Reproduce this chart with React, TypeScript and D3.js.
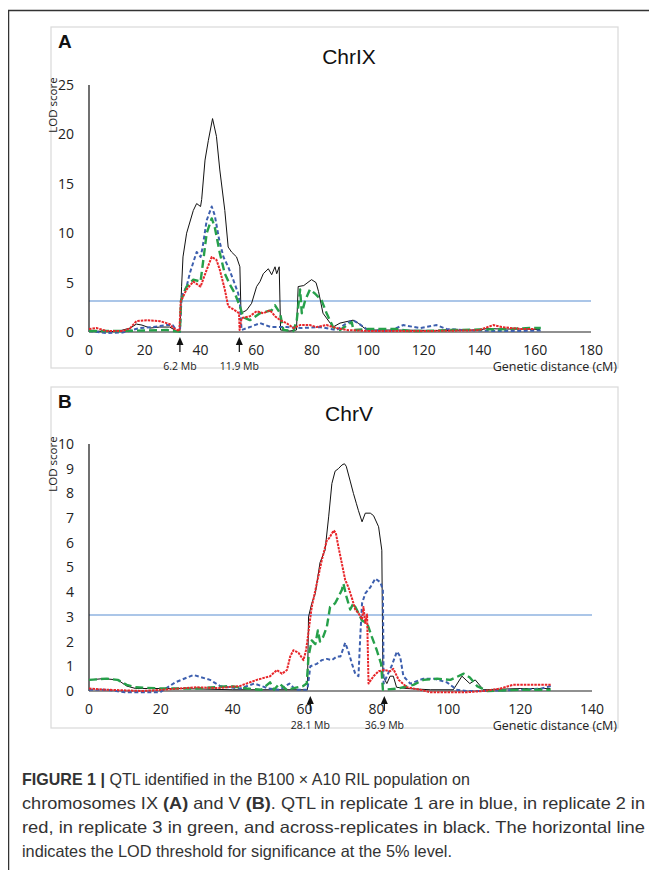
import React from "react";
import * as d3 from "d3";

type Pt = [number, number];

// ---- Chr IX (panel A) : [cM, LOD]
const ixBlack: Pt[] = [
  [0, 0.1], [10, 0.05], [14.8, 0.4], [17, 0.8], [19, 0.7], [21.9, 0.4], [25.4, 0.5], [28.9, 0.5], [31.4, 0.1], [32.6, 0.2],
  [33.2, 4.6], [33.7, 7.6], [35, 10], [37.4, 12.3], [38.6, 13], [40, 12.7], [40.4, 13.4], [41.6, 17.4], [42.8, 19.4],
  [44.3, 21.6], [45.7, 19.8], [46.9, 16.4], [48.7, 12.3], [49.9, 8.6], [51.1, 8.1], [52.9, 7.6], [54.1, 6.6],
  [54.5, 1.9], [56.5, 2.2], [58.3, 2.9], [60.1, 4.6], [61.3, 5.1], [62.5, 5.9], [64.3, 6.4], [65.5, 5.8], [66.7, 6.6],
  [67.3, 5.9], [68.2, 6.6], [68.7, 0.2], [72, 0.1], [74.4, 0.2], [75, 4.6], [77, 4.7], [79.8, 5.3], [81.4, 5.0],
  [82.3, 4.1], [83.9, 1.9], [87.5, 0.5], [90, 0.9], [94.7, 1.2], [96.5, 0.9], [99.6, 0.2], [110, 0.2], [125, 0.15],
  [140, 0.2], [142.6, 0.35], [148, 0.3], [155, 0.3], [161.7, 0.25]
];
const ixBlue: Pt[] = [
  [0, 0.1], [6.3, -0.1], [12, -0.05], [18.3, 0.4], [23, 0.5], [27.7, 0.7], [30, 0.7], [31.3, 0.2], [32.6, 0],
  [33.2, 3.6], [35, 4.6], [36.2, 6], [38.6, 8.1], [40, 7.6], [40.7, 8.5], [42.2, 11.3], [44, 12.7], [45.1, 11.8],
  [46.7, 9.3], [48.2, 7.6], [49.9, 6.6], [51.7, 5.3], [53.5, 3.9], [54.1, 2.9], [54.7, 0.2], [57.7, 0.5], [61.3, 0.9],
  [65.2, 0.5], [70.8, 0.5], [76, 0.4], [82.8, 0.5], [88.8, 0.2], [92.4, 0.9], [94.7, 1.2], [97, 0.8], [100, 0.2],
  [108, 0.1], [112.6, 0.7], [118.7, 0.4], [124.6, 0.7], [128.2, 0.3], [135, 0.2], [145, 0.1], [155, 0.1], [162, 0.15]
];
const ixRed: Pt[] = [
  [0, 0.3], [2.7, 0.4], [6.3, 0.1], [12.3, 0.1], [14.8, 0.4], [17, 1.1], [20.7, 1.2], [25.4, 1.1], [29, 0.8],
  [30.1, 0.4], [32.4, 0.1], [32.9, 3.1], [35, 4.3], [37.4, 5.1], [40, 4.6], [42.2, 6.3], [44, 7.6], [45.7, 7.3],
  [46.9, 6.3], [48.7, 4.3], [49.9, 2.6], [52.3, 2.2], [53.8, 1.9], [54, 0.2], [54.7, 1.4], [57.7, 1.6], [60.1, 2.1],
  [62.5, 1.9], [64.9, 2.2], [66.7, 1.6], [68.5, 1.2], [70.8, 0.9], [73.3, 0.4], [75.7, 0.7], [79.2, 0.7], [81.6, 0.5],
  [85.2, 0.7], [88.8, 0.4], [92.4, 0.2], [100, 0.1], [120, 0.1], [135, 0.15], [140, 0.2], [145, 0.7], [148, 0.5],
  [155, 0.3], [160, 0.3]
];
const ixGreen: Pt[] = [
  [0, 0.1], [10, 0.1], [20, 0.15], [28, 0.2], [30, 0.1], [32.6, 0.05], [33, 3.2], [35, 4.6], [37.4, 5.3], [40, 5.1],
  [41, 7.3], [42.2, 10], [44, 11.5], [45.1, 10.6], [46.9, 8], [48.7, 5.9], [50.5, 4.8], [52.3, 3.9], [54.1, 2.6],
  [55.3, 1.5], [57.7, 1.2], [61.3, 1.9], [65.5, 2.2], [66.7, 2.7], [68.5, 1.9], [69.7, 0.2], [73.3, 0.1], [74.5, 1.2],
  [75.7, 4.3], [76.3, 1.9], [77.5, 3.2], [79.2, 4.3], [81, 3.9], [83.4, 3.2], [85.2, 1.9], [87.5, 0.5], [90, 0.2],
  [94.2, 1.0], [94.8, 0.2], [100, 0.3], [110, 0.3], [115, 0.1], [120, 0.1], [130, 0.2], [140, 0.25], [150, 0.3],
  [158, 0.4], [162, 0.4]
];

// ---- Chr V (panel B)
const vBlack: Pt[] = [
  [0, 0.45], [4, 0.5], [8, 0.45], [10.5, 0.2], [13, 0.1], [25, 0.1], [40, 0.05], [55, 0.05], [60.8, 0.05],
  [61.1, 3], [62, 3.55], [63, 3.95], [63.4, 4.35], [64.3, 5.2], [65.7, 5.7], [66.7, 7.05], [67.6, 8.4], [68.5, 8.9],
  [69.4, 9], [70.4, 9.15], [71.1, 9.2], [71.6, 9.1], [72.7, 8.5], [73.6, 8], [74.4, 7.6], [75, 7.3], [76, 6.85],
  [76.9, 7.2], [78.3, 7.2], [79.2, 7.1], [80.6, 6.65], [81.5, 5.7], [81.8, 0.6], [82.9, 0.3], [83.8, 0.6],
  [84.7, 0.6], [85.6, 0.15], [88.5, 0.1], [95, 0.05], [101.4, 0.05], [103.8, 0.6], [106, 0.3], [107.5, 0.45],
  [109.8, 0.05], [120, 0.1], [128.4, 0.1]
];
const vBlue: Pt[] = [
  [0, 0.05], [5, 0.05], [10, -0.05], [19.8, -0.05], [24, 0.35], [29.1, 0.65], [33.7, 0.45], [36.5, 0.2], [42, 0.1],
  [46, 0.3], [50, 0.1], [53, 0.05], [55.8, 0.3], [57.5, 0.05], [60.8, 0.05], [61.6, 1], [63.4, 1.1], [64.8, 1.25],
  [66.2, 1.3], [67.6, 1.25], [69, 1.4], [70, 1.4], [71.3, 1.95], [72.2, 1.6], [73.2, 1.1], [74.1, 0.7], [75, 0.6],
  [75.5, 2.2], [76, 3.55], [76.9, 3.95], [78.3, 4.2], [79.7, 4.55], [81.1, 4.4], [81.8, 4.1], [82, 0.3], [82.9, 0.6],
  [84.2, 1], [85.7, 1.6], [86.6, 1.4], [87.5, 0.6], [89.4, 0.3], [93.1, 0.5], [95.9, 0.5], [99.6, 0.35],
  [102.4, 0.05], [105, 0], [109.8, 0], [120, 0.05], [126, 0.1], [128.5, 0.2]
];
const vRed: Pt[] = [
  [0, 0.1], [5, 0.05], [15, 0], [25, 0.1], [30, 0.15], [36, 0.12], [42, 0.2], [43.8, 0.3], [46.7, 0.45],
  [50.4, 0.6], [52.3, 0.85], [53.7, 0.7], [55.1, 0.85], [56, 1.4], [56.9, 1.65], [58.3, 1.55], [59.7, 1.25],
  [60.4, 1.65], [60.8, 2.05], [61.4, 2.75], [62, 3.4], [63.4, 4.35], [64.8, 5.3], [66.2, 6.1], [66.9, 6.2],
  [68.1, 6.5], [68.7, 6.4], [69.4, 5.85], [70.4, 5.15], [71.3, 4.5], [72.2, 4.2], [73.2, 3.75], [74.1, 3.3],
  [75, 3.15], [76, 2.9], [76.4, 3.4], [76.9, 2.75], [77.4, 3.1], [77.8, 0.3], [79.2, 0.6], [80.6, 0.8], [82, 0.85],
  [83.8, 0.8], [84.7, 0.9], [86.2, 0.45], [88.5, 0.15], [92.2, 0.05], [95, -0.05], [105, -0.05], [110, 0],
  [114.5, 0.1], [118, 0.25], [124, 0.25], [128.5, 0.25]
];
const vGreen: Pt[] = [
  [0, 0.45], [5, 0.5], [8, 0.45], [10.5, 0.25], [13, 0.15], [20, 0.1], [30, 0.1], [35, 0.15], [39.3, 0.2],
  [44, 0.1], [48, 0.05], [50.4, 0.35], [51.5, 0.05], [53, 0.3], [55, 0.05], [59.6, 0.2], [60.6, 0.3], [61.1, 1.4],
  [62, 2.05], [63, 1.9], [63.7, 2.45], [64.3, 2], [65.2, 2.2], [66.2, 2.6], [67.1, 3.4], [68.5, 3.55], [69.4, 3.8],
  [70.4, 4.1], [70.8, 4.35], [71.7, 3.8], [72.7, 3.3], [73.6, 3.55], [74.5, 3.3], [76, 2.85], [77.4, 2.75],
  [78.7, 2.2], [80.1, 1.65], [81.3, 1.1], [81.8, 0.05], [86, 0.1], [90.3, 0.25], [93.1, 0.45], [96.9, 0.5],
  [100.6, 0.45], [104.3, 0.7], [106, 0.55], [108, 0.2], [110.8, 0], [120, 0.05], [128.5, 0.05]
];

const ixTicksX = d3.range(0, 181, 20);
const ixTicksY = d3.range(0, 26, 5);
const vTicksX = d3.range(0, 141, 20);
const vTicksY = d3.range(0, 11, 1);
const ixMarkers = [{ cm: 32.6, label: "6.2 Mb" }, { cm: 53.9, label: "11.9 Mb" }];
const vMarkers = [{ cm: 61.6, label: "28.1 Mb" }, { cm: 82.2, label: "36.9 Mb" }];
const ixThreshold = 3.15;
const vThreshold = 3.08;

const STYLES = {
  blue: { stroke: "#3d5fae", width: 2, dash: "4,2.5" },
  red: { stroke: "#e8262a", width: 2, dash: "2.5,1" },
  green: { stroke: "#26a04a", width: 2.4, dash: "8,4" },
  black: { stroke: "#111", width: 1, dash: "" },
};

const tickFont = "'Open Sans', sans-serif";

function Panel(props: any) {
  const { top, height, letter, title, titleY, xMax, yMax, xTicks, yTicks, x0, x1, y0, y1, series, markers, threshold } = props;
  const x = d3.scaleLinear().domain([0, xMax]).range([x0, x1]);
  const y = d3.scaleLinear().domain([0, yMax]).range([y0, y1]);
  const line = d3.line<Pt>().x(d => x(d[0])).y(d => y(d[1]));
  return (
    <g>
      <rect x={51} y={top} width={567} height={height} fill="#fff" stroke="#d9d9d9" strokeWidth={1.2} />
      <text x={58} y={top + 21} fontFamily="'Liberation Sans', Arial, sans-serif" fontWeight="bold" fontSize={19} fill="#111">{letter}</text>
      <text x={349} y={titleY} textAnchor="middle" fontFamily="'Liberation Sans', Arial, sans-serif" fontSize={21} fill="#111">{title}</text>
      {/* threshold */}
      <line x1={x0} x2={x1} y1={y(threshold)} y2={y(threshold)} stroke="#8fb3e0" strokeWidth={1.5} />
      {/* axes */}
      <line x1={x0} x2={x1} y1={y0} y2={y0} stroke="#6b6b6b" strokeWidth={1.3} />
      <line x1={x0} x2={x0} y1={y0} y2={y1} stroke="#111" strokeWidth={1.2} />
      {yTicks.map((t: number) => (
        <text key={"y" + t} x={x0 - 15} y={y(t)} dy="0.35em" textAnchor="end" fontFamily={tickFont} fontSize={14} fill="#222">{t}</text>
      ))}
      {xTicks.map((t: number) => (
        <text key={"x" + t} x={x(t)} y={y0 + 18} dy="0.35em" textAnchor="middle" fontFamily={tickFont} fontSize={14} fill="#222">{t}</text>
      ))}
      <text transform={`translate(53,${y1 + 20}) rotate(-90)`} textAnchor="middle" dy="0.35em" fontFamily={tickFont} fontSize={11.5} fill="#222">LOD score</text>
      <text x={617} y={y0 + 39} textAnchor="end" fontFamily={tickFont} fontSize={12.5} fill="#222">Genetic distance (cM)</text>
      {series.map((s: any, i: number) => (
        <path key={i} d={line(s.data) || ""} fill="none" stroke={s.style.stroke} strokeWidth={s.style.width}
          strokeDasharray={s.style.dash || undefined} strokeLinejoin="round" />
      ))}
      {markers.map((m: any) => {
        const mx = x(m.cm);
        return (
          <g key={m.label}>
            <line x1={mx} x2={mx} y1={y0 + 20} y2={y0 + 10} stroke="#111" strokeWidth={1.2} />
            <path d={`M${mx},${y0 + 5} L${mx - 3.5},${y0 + 13} L${mx + 3.5},${y0 + 13} Z`} fill="#111" />
            <text x={mx} y={y0 + 38} textAnchor="middle" fontFamily={tickFont} fontSize={10.5} fill="#222">{m.label}</text>
          </g>
        );
      })}
    </g>
  );
}

export default function App() {
  const capFont = "'Liberation Sans', Arial, sans-serif";
  return (
    <svg width={649} height={862} style={{ display: "block" }} viewBox="8 8 649 862">
      <rect x={8} y={8} width={649} height={862} fill="#fff" />
      <line x1={8} x2={657} y1={10.5} y2={10.5} stroke="#333" strokeWidth={1.5} />
      <line x1={8.5} x2={8.5} y1={10} y2={870} stroke="#333" strokeWidth={1.5} />
      <Panel top={27} height={341} letter="A" title="ChrIX" titleY={64} xMax={180} yMax={25}
        xTicks={ixTicksX} yTicks={ixTicksY} x0={89} x1={591} y0={332} y1={85} threshold={ixThreshold}
        markers={ixMarkers}
        series={[
          { data: ixBlack, style: STYLES.black },
          { data: ixBlue, style: STYLES.blue },
          { data: ixGreen, style: STYLES.green },
          { data: ixRed, style: STYLES.red },
        ]} />
      <Panel top={387} height={341} letter="B" title="ChrV" titleY={421} xMax={140} yMax={10}
        xTicks={vTicksX} yTicks={vTicksY} x0={89} x1={592} y0={691} y1={444} threshold={vThreshold}
        markers={vMarkers}
        series={[
          { data: vBlack, style: STYLES.black },
          { data: vBlue, style: STYLES.blue },
          { data: vGreen, style: STYLES.green },
          { data: vRed, style: STYLES.red },
        ]} />
      <g fontFamily={capFont} fontSize={16.5} fill="#333">
        <text x={22} y={785} textLength={448} lengthAdjust="spacingAndGlyphs">
          <tspan fontWeight="bold">FIGURE 1 | </tspan>QTL identified in the B100 × A10 RIL population on
        </text>
        <text x={22} y={809} textLength={623} lengthAdjust="spacingAndGlyphs">
          chromosomes IX <tspan fontWeight="bold">(A)</tspan> and V <tspan fontWeight="bold">(B)</tspan>. QTL in replicate 1 are in blue, in replicate 2 in
        </text>
        <text x={22} y={833} textLength={623} lengthAdjust="spacingAndGlyphs">
          red, in replicate 3 in green, and across-replicates in black. The horizontal line
        </text>
        <text x={22} y={857} textLength={430} lengthAdjust="spacingAndGlyphs">
          indicates the LOD threshold for significance at the 5% level.
        </text>
      </g>
    </svg>
  );
}
